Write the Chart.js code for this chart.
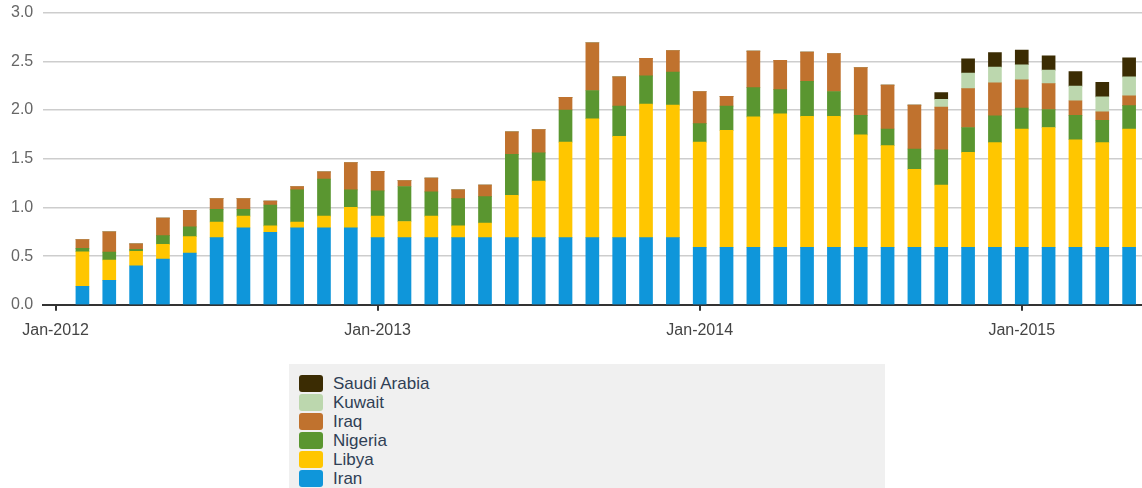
<!DOCTYPE html>
<html>
<head>
<meta charset="utf-8">
<script src="https://cdn.jsdelivr.net/npm/chart.js@4/dist/chart.umd.min.js"></script>
<style>
  body { margin: 0; background: #fff; font-family: "Liberation Sans", Arial, sans-serif; }
  #wrap { position: absolute; left: 0; top: -7px; width: 1142px; height: 364px; }
  #legend {
    position: absolute; left: 289px; top: 364px; width: 596px; height: 130px;
    background: #f0f0f0; box-sizing: border-box; padding: 10px 0 0 10px;
  }
  .item { display: flex; align-items: center; height: 19px; font-size: 17px; color: #2f3f55; }
  .sw { width: 24px; height: 17px; border-radius: 3px; margin-right: 10px; }
</style>
</head>
<body>
<div id="wrap"><canvas id="myChart"></canvas></div>
<div id="legend"></div>
<script>
// months Feb-2012 .. May-2015, x = months since Jan-2012
var months = [];
for (var i = 1; i <= 40; i++) months.push(i);
var tickLabels = ["Jan-2012", "Jan-2013", "Jan-2014", "Jan-2015"];

var iran = [0.19, 0.25, 0.40, 0.47, 0.53, 0.69, 0.79, 0.745, 0.79, 0.79, 0.79,
  0.69, 0.69, 0.69, 0.69, 0.69, 0.69, 0.69, 0.69, 0.69, 0.69, 0.69, 0.69,
  0.59, 0.59, 0.59, 0.59, 0.59, 0.59, 0.59, 0.59, 0.59, 0.59, 0.59, 0.59,
  0.59, 0.59, 0.59, 0.59, 0.59];
var libya = [0.355, 0.21, 0.15, 0.15, 0.17, 0.16, 0.12, 0.065, 0.06, 0.12, 0.21,
  0.22, 0.165, 0.22, 0.12, 0.15, 0.435, 0.58, 0.98, 1.22, 1.04, 1.37, 1.36,
  1.08, 1.20, 1.34, 1.37, 1.345, 1.345, 1.155, 1.045, 0.80, 0.64, 0.975, 1.075,
  1.215, 1.23, 1.105, 1.075, 1.215];
var nigeria = [0.035, 0.08, 0.02, 0.09, 0.10, 0.13, 0.07, 0.215, 0.33, 0.38, 0.18,
  0.26, 0.36, 0.25, 0.28, 0.27, 0.42, 0.29, 0.33, 0.29, 0.31, 0.29, 0.34,
  0.19, 0.25, 0.30, 0.25, 0.36, 0.255, 0.20, 0.17, 0.21, 0.36, 0.255, 0.275,
  0.215, 0.185, 0.25, 0.23, 0.24];
var iraq = [0.09, 0.21, 0.055, 0.18, 0.17, 0.11, 0.11, 0.04, 0.035, 0.075, 0.28,
  0.20, 0.06, 0.14, 0.09, 0.12, 0.23, 0.24, 0.13, 0.49, 0.30, 0.18, 0.22,
  0.33, 0.10, 0.375, 0.30, 0.30, 0.39, 0.49, 0.45, 0.45, 0.44, 0.40, 0.34,
  0.29, 0.265, 0.15, 0.085, 0.10];
var kuwait = [0, 0, 0, 0, 0, 0, 0, 0, 0, 0, 0,
  0, 0, 0, 0, 0, 0, 0, 0, 0, 0, 0, 0,
  0, 0, 0, 0, 0, 0, 0, 0, 0, 0.08, 0.16, 0.16,
  0.155, 0.14, 0.15, 0.155, 0.195];
var saudi = [0, 0, 0, 0, 0, 0, 0, 0, 0, 0, 0,
  0, 0, 0, 0, 0, 0, 0, 0, 0, 0, 0, 0,
  0, 0, 0, 0, 0, 0, 0, 0, 0, 0.07, 0.145, 0.15,
  0.15, 0.145, 0.15, 0.15, 0.195];

function pts(arr) {
  return arr.map(function (v, i) { return { x: months[i], y: v }; });
}

var series = [
  { label: "Iran", data: iran, color: "#0f96da" },
  { label: "Libya", data: libya, color: "#ffc600" },
  { label: "Nigeria", data: nigeria, color: "#5a9630" },
  { label: "Iraq", data: iraq, color: "#c0722e" },
  { label: "Kuwait", data: kuwait, color: "#bcd7ae" },
  { label: "Saudi Arabia", data: saudi, color: "#3b2c03" }
];

var ctx = document.getElementById("myChart").getContext("2d");
var chart = new Chart(ctx, {
  type: "bar",
  data: {
    datasets: series.map(function (s) {
      return {
        label: s.label,
        data: pts(s.data),
        backgroundColor: s.color,
        borderWidth: 0,
        barThickness: 13
      };
    })
  },
  options: {
    responsive: true,
    maintainAspectRatio: false,
    animation: false,
    layout: { padding: { top: 5, left: 1, right: 0, bottom: 7 } },
    plugins: { legend: { display: false }, tooltip: { enabled: false } },
    scales: {
      x: {
        type: "linear",
        stacked: true,
        offset: false,
        min: -0.46,
        max: 40.48,
        afterBuildTicks: function (scale) {
          scale.ticks = tickLabels.map(function (t, i) { return { value: i * 12 }; });
        },
        grid: { offset: false, drawOnChartArea: false, drawTicks: true, tickLength: 6, color: "#333", lineWidth: 2 },
        border: { color: "#333", width: 2 },
        ticks: {
          padding: 10,
          color: "#444",
          font: { size: 16, family: "Liberation Sans" },
          maxRotation: 0,
          callback: function (v) { return tickLabels[Math.round(v / 12)]; }
        }
      },
      y: {
        stacked: true,
        min: 0,
        max: 3,
        grid: { color: "#cdcdcd", lineWidth: 1.5, drawTicks: false },
        border: { display: false },
        ticks: {
          stepSize: 0.5,
          padding: 10,
          color: "#666",
          font: { size: 16, family: "Liberation Sans" },
          callback: function (v) { return v.toFixed(1); }
        }
      }
    }
  }
});

// legend, top item = last dataset
var legend = document.getElementById("legend");
chart.data.datasets.slice().reverse().forEach(function (d) {
  var row = document.createElement("div");
  row.className = "item";
  var sw = document.createElement("span");
  sw.className = "sw";
  sw.style.background = d.backgroundColor;
  row.appendChild(sw);
  row.appendChild(document.createTextNode(d.label));
  legend.appendChild(row);
});
</script>
</body>
</html>
